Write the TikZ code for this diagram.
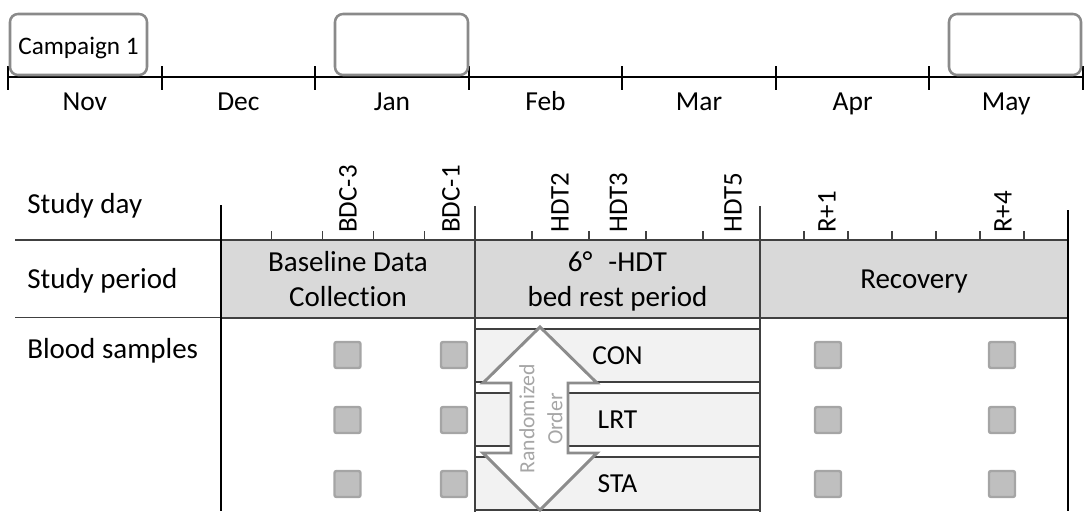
\documentclass[tikz,border=0pt]{standalone}
\usepackage{fontspec}
\setmainfont{Carlito}[Ligatures=NoCommon]
\definecolor{boxgray}{HTML}{D9D9D9}
\definecolor{bandgray}{HTML}{F2F2F2}
\definecolor{linegray}{HTML}{404040}
\definecolor{campgray}{HTML}{8A8A8A}
\definecolor{sqfill}{HTML}{BFBFBF}
\definecolor{sqedge}{HTML}{A5A5A5}
\definecolor{arrgray}{HTML}{8C8C8C}
\definecolor{txtgray}{HTML}{A6A6A6}
\newcommand\fmain{\fontsize{21.75}{26.25}\selectfont}
\newcommand\fmon{\fontsize{20.6}{24}\selectfont}
\newcommand\fcamp{\fontsize{18.9}{22}\selectfont}
\newcommand\frot{\fontsize{20.2}{24}\selectfont}
\newcommand\farr{\fontsize{16.3}{21}\selectfont}
\begin{document}
\begin{tikzpicture}[x=0.75pt,y=-0.75pt,
  tl/.style={line width=1.5pt, black},
  ln/.style={line width=1.2pt, linegray},
  month/.style={font=\fmon, anchor=base, inner sep=0pt},
  camp/.style={draw=campgray, line width=1.9pt, rounded corners=6pt, fill=white, inner sep=0pt},
  rowlbl/.style={font=\fmain, anchor=base west, inner sep=0pt},
  period/.style={draw=linegray, line width=1.2pt, fill=boxgray, inner sep=0pt, outer sep=0pt, align=center, font=\fmain, text depth=0pt, minimum height={78*0.75pt}},
  rotlbl/.style={font=\frot, rotate=90, anchor=west, inner sep=0pt},
  band/.style={draw=linegray, line width=1.2pt, fill=bandgray, inner sep=0pt, font=\fmon, minimum width={285*0.75pt}, minimum height={53*0.75pt}},
  sample/.style={draw=sqedge, line width=1.8pt, fill=sqfill, rounded corners=1.5pt, minimum size={26*0.75pt}, inner sep=0pt},
  bigarrow/.style={draw=arrgray, line width=2.2pt, fill=white, line join=miter},
  arrtext/.style={font=\farr, text=txtgray, rotate=90, align=center, inner sep=0pt}
]
\useasboundingbox (0,0) rectangle (1086,511);

% ---------- top timeline ----------
\coordinate (tlstart) at (8,77);
\coordinate (tlend) at (1083,77);
\draw[tl] (tlstart) -- (tlend);
\foreach \i in {0,...,7} {
  \draw[tl] ({8+153.57*\i},66) -- ({8+153.57*\i},90);
}
\foreach \m [count=\i from 0] in {Nov,Dec,Jan,Feb,Mar,Apr,May} {
  \node[month] (m\i) at ({8+153.57*(\i+0.5)},110) {\m};
}
\node[camp, minimum width={137*0.75pt}, minimum height={61*0.75pt}] (c1) at (78.5,44.5) {};
\node[font=\fcamp, anchor=base, inner sep=0pt] (c1t) at (78.5,54) {Campaign 1};
\node[camp, minimum width={133*0.75pt}, minimum height={61*0.75pt}] (c2) at (401.5,44.5) {};
\node[camp, minimum width={132*0.75pt}, minimum height={61*0.75pt}] (c3) at (1015,44.5) {};

% ---------- row labels ----------
\node[rowlbl] (rday) at (27,213) {Study day};
\node[rowlbl] (rper) at (27,288) {Study period};
\node[rowlbl] (rblood) at (27,358) {Blood samples};

\coordinate (h1a) at (15,240); \coordinate (h1b) at (221,240);
\coordinate (h2a) at (15,317.5); \coordinate (h2b) at (221,317.5);
\draw[ln] (h1a) -- (h1b);
\draw[ln] (h2a) -- (h2b);

% ---------- blood sample area ----------
\node[draw=linegray, line width=1.2pt, fill=white, inner sep=0pt,
      minimum width={285*0.75pt}, minimum height={200*0.75pt}] (bloodbox) at (617.5,418) {};
\node[band] (con) at (617.5,355.5) {CON};
\node[band] (lrt) at (617.5,419.5) {LRT};
\node[band] (sta) at (617.5,483.5) {STA};

% ---------- period boxes ----------
\node[period, minimum width={254*0.75pt}] (pbase) at (348,279) {Baseline Data\\Collection};
\node[period, minimum width={285*0.75pt}] (phdt) at (617.5,279) {6°\hspace{0.55em}-HDT\\bed rest period};
\node[period, minimum width={308*0.75pt}] (prec) at (914,279) {Recovery};

% ---------- long verticals ----------
\coordinate (v1t) at (221,205); \coordinate (v1b) at (221,511);
\coordinate (v2t) at (475,206);
\coordinate (v3t) at (760,206);
\coordinate (v4t) at (1068,210); \coordinate (v4b) at (1068,511);
\draw[ln, black] (v1t) -- (v1b);
\draw[ln] (v2t) -- (pbase.north east);
\draw[ln] (v3t) -- (phdt.north east);
\draw[ln, black] (v4t) -- (v4b);

% ---------- day ticks ----------
\foreach \i in {1,...,4} {
  \draw[ln, line width=1pt] ({221+50.8*\i},231) -- ({221+50.8*\i},240);
  \draw[ln, line width=1pt] ({475+57*\i},231) -- ({475+57*\i},240);
}
\foreach \i in {1,...,6} {
  \draw[ln, line width=1pt] ({760+44*\i},231) -- ({760+44*\i},240);
}
\node[rotlbl] (bdc3) at (348,233) {BDC-3};
\node[rotlbl] (bdc1) at (451,233) {BDC-1};
\node[rotlbl] (hdt2) at (560,233) {HDT2};
\node[rotlbl] (hdt3) at (618.5,233) {HDT3};
\node[rotlbl] (hdt5) at (733,233) {HDT5};
\node[rotlbl] (r1) at (827,233) {R+1};
\node[rotlbl] (r4) at (1003,233) {R+4};

% ---------- samples ----------
\foreach \x [count=\c] in {347.5,454,828,1002} {
  \foreach \y [count=\r] in {355,420,484} {
    \node[sample] (s\c\r) at (\x,\y) {};
  }
}

% ---------- randomized order arrow ----------
\draw[bigarrow] (540,327) -- (597,383) -- (568,383) -- (568,453) -- (597,453)
  -- (540,510) -- (483,453) -- (511,453) -- (511,383) -- (483,383) -- cycle;
\node[arrtext] (rand) at (541,419) {Randomized\\Order};
\end{tikzpicture}
\end{document}
